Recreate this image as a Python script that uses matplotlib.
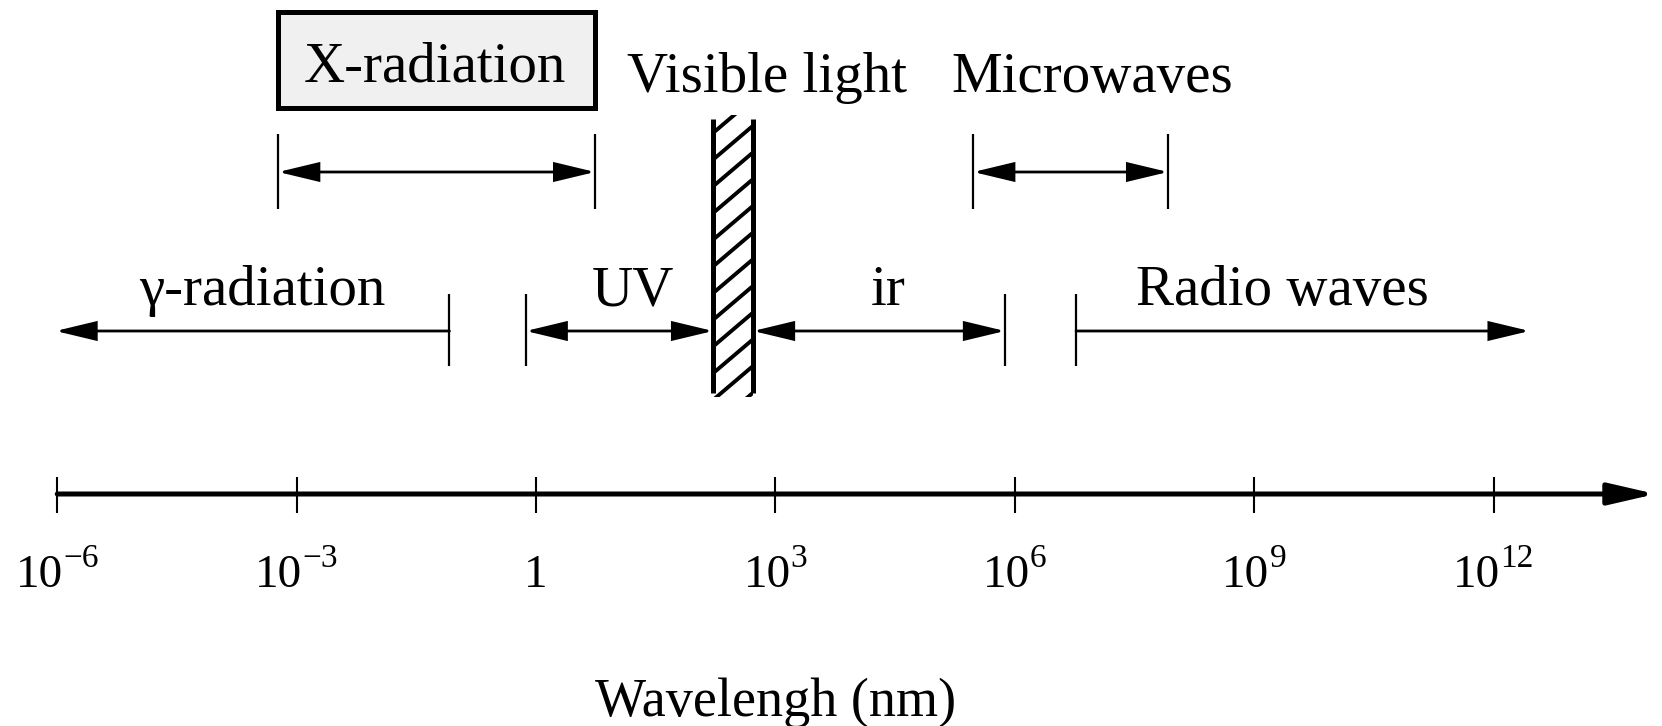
import numpy as np
import matplotlib
matplotlib.use("Agg")
import matplotlib.pyplot as plt
from matplotlib.patches import Rectangle
from matplotlib.transforms import offset_copy

# ---------------- data (log10 of wavelength in nm) ----------------
tick_exponents = [-6, -3, 0, 3, 6, 9, 12]
tick_bases = ["10", "10", "1", "10", "10", "10", "10"]
tick_powers = ["\u22126", "\u22123", "", "3", "6", "9", "12"]
axis_end = 14.03
axis_label = "Wavelengh (nm)"

xray_range = (-3.23, 0.74)
micro_range = (5.48, 7.92)
gamma_range = (-6.02, -1.085)
uv_range = (-0.128, 2.218)
visible_range = (2.218, 2.72)
ir_range = (2.72, 5.876)
radio_range = (6.767, 12.45)

upper_labels = ["X-radiation", "Visible light", "Microwaves"]
upper_label_x = [-1.27, 2.895, 6.967]
lower_labels = ["\u03b3-radiation", "UV", "ir", "Radio waves"]
lower_label_x = [-3.434, 1.215, 4.41, 9.35]

# ---------------- figure ----------------
plt.rcParams['font.family'] = ['Liberation Serif', 'DejaVu Serif']

W, H = 1662, 726
fig = plt.figure(figsize=(W / 100, H / 100), dpi=100)
ax = fig.add_axes([0, 0, 1, 1])
ax.set_xlim(-6.717, 14.11)
ax.set_ylim(H, 0)
ax.axis('off')

K = 'black'
ppd = 79.8  # pixels per decade (for converting pixel-like sizes)

def arrow(x0, x1, y, style='<|-|>', lw=2.0, hl=1.25, hw=0.3, ms=20):
    ax.annotate('', xy=(x1, y), xytext=(x0, y),
                arrowprops=dict(arrowstyle=f'{style},head_length={hl},head_width={hw}',
                                lw=lw, color=K, shrinkA=0, shrinkB=0,
                                mutation_scale=ms, joinstyle='miter'))

def vline(x, y0, y1, lw=1.6):
    ax.plot([x, x], [y0, y1], color=K, lw=lw, solid_capstyle='butt')

# ---- main axis ----
axis_y = 494
ax.annotate('', xy=(axis_end, axis_y), xytext=(tick_exponents[0], axis_y),
            arrowprops=dict(arrowstyle='-|>,head_length=1.3,head_width=0.3',
                            lw=3.6, color=K, shrinkA=0, shrinkB=0, mutation_scale=22))

renderer = fig.canvas.get_renderer()
base_fs, pow_fs = 34, 24
for e, b, p in zip(tick_exponents, tick_bases, tick_powers):
    vline(e, 477, 513, lw=1.5)
    tb = ax.text(e, 587, b, fontsize=base_fs, ha='left', va='baseline')
    wb = tb.get_window_extent(renderer).width
    wp = 0.0
    tp = None
    if p:
        tp = ax.text(e, 587, p, fontsize=pow_fs, ha='left', va='baseline')
        wp = tp.get_window_extent(renderer).width
    total = wb + wp
    # shift to center the whole label on the tick (offsets in points)
    dx_b = -total / 2 * 72 / fig.dpi
    tb.set_transform(offset_copy(ax.transData, fig=fig, x=dx_b, y=0, units='points'))
    if tp is not None:
        dx_p = (-total / 2 + wb) * 72 / fig.dpi
        tp.set_transform(offset_copy(ax.transData, fig=fig, x=dx_p, y=14.5, units='points'))

ax.text(3, 716, axis_label, fontsize=39, ha='center', va='baseline')

# ---- X-radiation box and bracket ----
box = Rectangle((xray_range[0], 12), xray_range[1] - xray_range[0], 96,
                facecolor='#f0f0f0', edgecolor=K, lw=3.6)
ax.add_patch(box)
ax.text(upper_label_x[0], 82, upper_labels[0], fontsize=41, ha='center', va='baseline')
for xv in xray_range:
    vline(xv, 134, 209)
arrow(xray_range[0], xray_range[1], 172)

# ---- Microwaves ----
ax.text(upper_label_x[2], 92, upper_labels[2], fontsize=41, ha='center', va='baseline')
for xv in micro_range:
    vline(xv, 134, 209)
arrow(micro_range[0], micro_range[1], 172)

# ---- Visible light bar ----
ax.text(upper_label_x[1], 92, upper_labels[1], fontsize=41, ha='center', va='baseline')
bar_top, bar_bot = 119, 393
bar = Rectangle((visible_range[0], bar_top), visible_range[1] - visible_range[0],
                bar_bot - bar_top, facecolor='white', edgecolor='none', lw=0)
ax.add_patch(bar)
clip = Rectangle((visible_range[0], bar_top - 4), visible_range[1] - visible_range[0],
                 bar_bot - bar_top + 8, transform=ax.transData)
rise = 0.85 * (visible_range[1] - visible_range[0]) * ppd
for yl in np.arange(bar_top + 14, bar_bot + rise, 26.7):
    ln, = ax.plot([visible_range[0], visible_range[1]], [yl, yl - rise], color=K, lw=2.8,
                  solid_capstyle='butt')
    ln.set_clip_path(clip)
for xv in visible_range:
    vline(xv, bar_top, bar_bot, lw=3.6)

# ---- lower row ----
low_y = 331
low_v0, low_v1 = 294, 366
vline(gamma_range[1], low_v0, low_v1)
arrow(gamma_range[0], gamma_range[1], low_y, style='<|-')
vline(uv_range[0], low_v0, low_v1)
arrow(uv_range[0], uv_range[1], low_y)
arrow(ir_range[0], ir_range[1], low_y)
vline(ir_range[1], low_v0, low_v1)
vline(radio_range[0], low_v0, low_v1)
arrow(radio_range[0], radio_range[1], low_y, style='-|>')

for lab, xl in zip(lower_labels, lower_label_x):
    ax.text(xl, 305, lab, fontsize=41, ha='center', va='baseline')

fig.savefig('out.png', dpi=100, facecolor='white')
